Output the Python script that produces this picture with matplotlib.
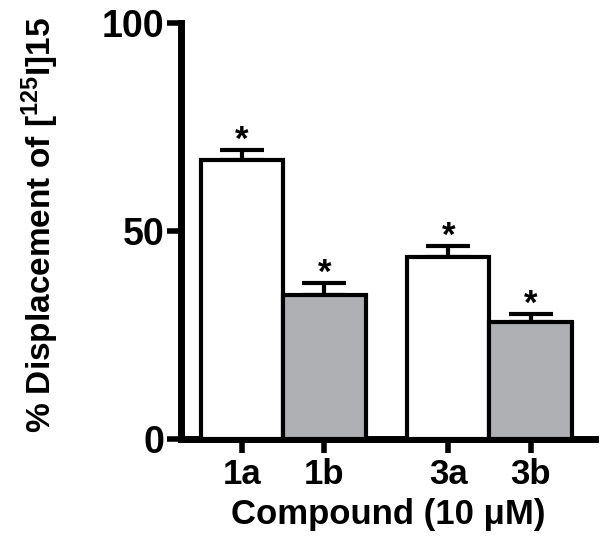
import matplotlib
matplotlib.use("Agg")
import matplotlib.pyplot as plt
from matplotlib import font_manager

categories = ["1a", "1b", "3a", "3b"]
values = [67.1, 34.6, 43.7, 28.1]
errors = [2.4, 2.9, 2.7, 1.9]
yticks = [0, 50, 100]

names = {f.name for f in font_manager.fontManager.ttflist}
narrow = 'Liberation Sans Narrow' if 'Liberation Sans Narrow' in names else 'Liberation Sans'

plt.rcParams['font.family'] = [narrow, 'Liberation Sans', 'DejaVu Sans']
plt.rcParams['font.weight'] = 'bold'
plt.rcParams['mathtext.fontset'] = 'custom'
plt.rcParams['mathtext.rm'] = narrow + ':bold'
plt.rcParams['mathtext.bf'] = narrow + ':bold'
plt.rcParams['mathtext.it'] = narrow + ':bold'

fig = plt.figure(figsize=(6.01, 5.54), dpi=100)
ax = fig.add_axes([181/601, 115/554, (595-181)/601, (531-115)/554])

pos = [0, 1, 2.5, 3.5]
colors = ['white', '#afb0b4', 'white', '#afb0b4']
ax.bar(pos, values, width=1.0, color=colors, edgecolor='black', linewidth=3, zorder=3)
ax.errorbar(pos, values, yerr=[[0]*4, errors], fmt='none', ecolor='black',
            elinewidth=3, capsize=16, capthick=3, zorder=2)
for x, v, e in zip(pos, values, errors):
    ax.annotate('*', (x, v + e), xytext=(0, -5), textcoords='offset points',
                ha='center', va='bottom', fontsize=25, fontweight='bold',
                family='Liberation Sans')

ax.set_xlim(-0.74, 4.28)
ax.set_ylim(0, 100)
ax.set_yticks(yticks)
ax.set_yticklabels([str(t) for t in yticks], fontsize=27, fontweight='bold')
ax.set_xticks(pos)
ax.set_xticklabels(categories, fontsize=25, fontweight='bold')
ax.tick_params(axis='both', width=4, length=10, color='black')
ax.tick_params(axis='y', pad=2)
ax.tick_params(axis='x', pad=4)
for s in ['top', 'right']:
    ax.spines[s].set_visible(False)
for s in ['left', 'bottom']:
    ax.spines[s].set_linewidth(5)
ax.spines['left'].set_capstyle('projecting')

ax.set_xlabel('Compound (10 μM)', fontsize=25, fontweight='bold', labelpad=5,
              family='Liberation Sans')
ax.set_ylabel(r'% Displacement of [$^{125}$I]15', fontsize=24, fontweight='bold')
ax.yaxis.set_label_coords(-0.29, 0.515)

fig.savefig('out.png', dpi=100)
